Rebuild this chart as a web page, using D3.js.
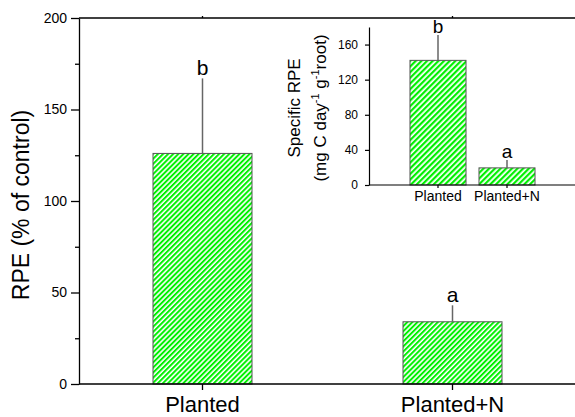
<!DOCTYPE html>
<html>
<head>
<meta charset="utf-8">
<script src="https://cdn.jsdelivr.net/npm/d3@7"></script>
<style>
  html, body { margin: 0; padding: 0; background: #fff; }
  svg { display: block; font-family: "Liberation Sans", Arial, Helvetica, sans-serif; }
</style>
</head>
<body>
<svg id="chart" width="575" height="417"></svg>
<script>
// Main panel: RPE relative to control
const categories = ["Planted", "Planted+N"];
const rpeValues = [126, 34];
const rpeErrors = [41, 9];
const rpeLetters = ["b", "a"];
const rpeMajorTicks = [0, 50, 100, 150, 200];
const rpeMinorTicks = [25, 75, 125, 175];

// Inset: specific RPE per gram of root
const specificValues = [142, 19.5];
const specificErrors = [29, 9];
const specificLetters = ["b", "a"];
const specificTicks = [0, 40, 80, 120, 160];

const svg = d3.select("#chart");
const FONT_COLOR = "#000";
const defs = svg.append("defs");

function hatch(id, period) {
  const p = defs.append("pattern")
    .attr("id", id)
    .attr("patternUnits", "userSpaceOnUse")
    .attr("width", period)
    .attr("height", period)
    .attr("patternTransform", "rotate(45)");
  p.append("rect").attr("width", period).attr("height", period).attr("fill", "#fff");
  p.append("rect").attr("width", period * 0.56).attr("height", period).attr("fill", "#00f000");
}
hatch("hatchMain", 3.6);
hatch("hatchInset", 4.0);

// ---------- main panel ----------
const y = d3.scaleLinear().domain([0, 200]).range([384, 18]);
const x = d3.scaleBand().domain(categories).range([79, 576])
  .paddingInner(0.604).paddingOuter(0.296);

const left = 79, right = 575;

// bars
svg.append("g").selectAll("rect").data(categories).join("rect")
  .attr("x", d => x(d))
  .attr("y", (d, i) => y(rpeValues[i]))
  .attr("width", x.bandwidth())
  .attr("height", (d, i) => y(0) - y(rpeValues[i]))
  .attr("fill", "url(#hatchMain)")
  .attr("stroke", "#555")
  .attr("stroke-width", 1);

// error bars
svg.append("g").selectAll("line").data(categories).join("line")
  .attr("x1", d => x(d) + x.bandwidth() / 2)
  .attr("x2", d => x(d) + x.bandwidth() / 2)
  .attr("y1", (d, i) => y(rpeValues[i]))
  .attr("y2", (d, i) => y(rpeValues[i] + rpeErrors[i]))
  .attr("stroke", "#666")
  .attr("stroke-width", 1.5);

// significance letters
svg.append("g").selectAll("text").data(categories).join("text")
  .attr("x", d => x(d) + x.bandwidth() / 2)
  .attr("y", (d, i) => y(rpeValues[i] + rpeErrors[i]) - 3)
  .attr("text-anchor", "middle")
  .attr("font-size", 21)
  .attr("fill", FONT_COLOR)
  .text((d, i) => rpeLetters[i]);

// left axis
const yAxis = svg.append("g").attr("transform", `translate(${left},0)`)
  .call(d3.axisLeft(y).tickValues(rpeMajorTicks).tickSize(8).tickPadding(4).tickSizeOuter(0));
yAxis.selectAll("text").attr("font-size", 14).attr("fill", FONT_COLOR).attr("font-family", null);
svg.append("g").attr("transform", `translate(${left},0)`)
  .call(d3.axisLeft(y).tickValues(rpeMinorTicks).tickSize(4).tickFormat("").tickSizeOuter(0))
  .call(g => g.select(".domain").remove());

// bottom axis
const xAxis = svg.append("g").attr("transform", `translate(0,${y(0)})`)
  .call(d3.axisBottom(x).tickSize(6).tickPadding(6).tickSizeOuter(0));
xAxis.selectAll("text").attr("font-size", 22).attr("fill", FONT_COLOR).attr("font-family", null);
xAxis.select(".domain").attr("d", `M${left},0H${right}`);

// top frame line
const topAxis = svg.append("g").attr("transform", `translate(0,${y(200)})`)
  .call(d3.axisTop(x).tickSize(2).tickFormat("").tickSizeOuter(0));
topAxis.select(".domain").attr("d", `M${left},0H${right}`);

svg.selectAll(".domain, .tick line").attr("stroke", "#000").attr("stroke-width", 1.3);

// y label
svg.append("text")
  .attr("transform", "translate(29,205) rotate(-90)")
  .attr("text-anchor", "middle")
  .attr("font-size", 23)
  .attr("fill", FONT_COLOR)
  .text("RPE (% of control)");

// ---------- inset ----------
const yi = d3.scaleLinear().domain([0, 180]).range([185, 27]);
const xi = d3.scaleBand().domain(categories).range([369, 576])
  .paddingInner(0.188).paddingOuter(0.594);

const inset = svg.append("g");

inset.append("g").selectAll("rect").data(categories).join("rect")
  .attr("x", d => xi(d))
  .attr("y", (d, i) => yi(specificValues[i]))
  .attr("width", xi.bandwidth())
  .attr("height", (d, i) => yi(0) - yi(specificValues[i]))
  .attr("fill", "url(#hatchInset)")
  .attr("stroke", "#555")
  .attr("stroke-width", 1);

inset.append("g").selectAll("line").data(categories).join("line")
  .attr("x1", d => xi(d) + xi.bandwidth() / 2)
  .attr("x2", d => xi(d) + xi.bandwidth() / 2)
  .attr("y1", (d, i) => yi(specificValues[i]))
  .attr("y2", (d, i) => yi(specificValues[i] + specificErrors[i]))
  .attr("stroke", "#666")
  .attr("stroke-width", 1.5);

inset.append("g").selectAll("text").data(categories).join("text")
  .attr("x", d => xi(d) + xi.bandwidth() / 2)
  .attr("y", (d, i) => yi(specificValues[i] + specificErrors[i]) - 2)
  .attr("text-anchor", "middle")
  .attr("font-size", 19)
  .attr("fill", FONT_COLOR)
  .text((d, i) => specificLetters[i]);

const yiAxis = inset.append("g").attr("transform", "translate(369,0)")
  .call(d3.axisLeft(yi).tickValues(specificTicks).tickSize(4).tickPadding(7).tickSizeOuter(0));
yiAxis.selectAll("text").attr("font-size", 12).attr("fill", FONT_COLOR).attr("font-family", null);

const xiAxis = inset.append("g").attr("transform", `translate(0,${yi(0)})`)
  .call(d3.axisBottom(xi).tickSize(3).tickPadding(3).tickSizeOuter(0));
xiAxis.selectAll("text").attr("font-size", 14).attr("fill", FONT_COLOR).attr("font-family", null);
xiAxis.select(".domain").attr("d", `M369,0H${right}`);

inset.selectAll(".domain, .tick line").attr("stroke", "#000").attr("stroke-width", 1.2);

// inset y label, two lines
inset.append("text")
  .attr("transform", "translate(300,108) rotate(-90)")
  .attr("text-anchor", "middle")
  .attr("font-size", 17)
  .attr("fill", FONT_COLOR)
  .text("Specific RPE");

const l2 = inset.append("text")
  .attr("transform", "translate(326,108) rotate(-90)")
  .attr("text-anchor", "middle")
  .attr("font-size", 17)
  .attr("fill", FONT_COLOR);
l2.append("tspan").text("(mg C day");
l2.append("tspan").attr("font-size", 11).attr("dy", -7).text("-1");
l2.append("tspan").attr("dy", 7).text(" g");
l2.append("tspan").attr("font-size", 11).attr("dy", -7).text("-1");
l2.append("tspan").attr("dy", 7).text("root)");
</script>
</body>
</html>
